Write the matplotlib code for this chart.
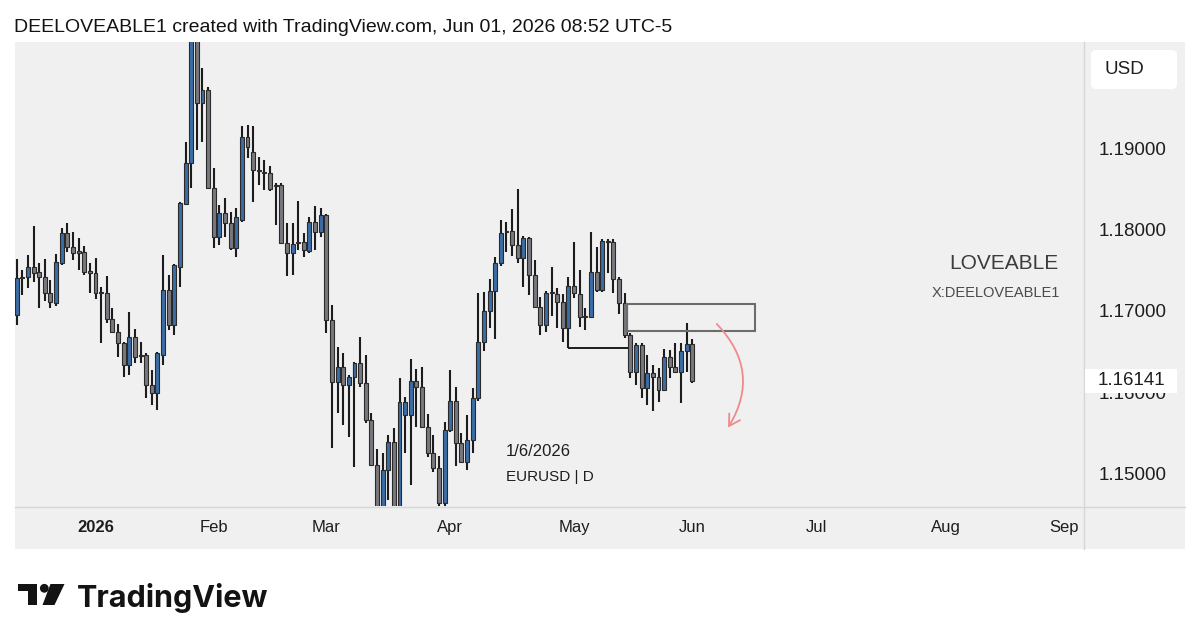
import pandas as pd
import matplotlib.pyplot as plt
from matplotlib.patches import Rectangle, FancyBboxPatch, Circle, Polygon, FancyArrowPatch
from matplotlib.lines import Line2D
from matplotlib.transforms import IdentityTransform

plt.rcParams['font.family'] = ['Liberation Sans', 'DejaVu Sans']

# EURUSD daily candles, 11 Dec 2025 .. 1 Jun 2026
opens = [
    1.16951, 1.17417, 1.17417, 1.17540, 1.17479, 1.17417, 1.17221, 1.17098, 1.17589, 1.17957,
    1.17785, 1.17736, 1.17724, 1.17491, 1.17466, 1.17233, 1.17221, 1.16902, 1.16742, 1.16607,
    1.16337, 1.16681, 1.16460, 1.16460, 1.16092, 1.15994, 1.16460, 1.17258, 1.16828, 1.17540,
    1.18313, 1.18816, 1.20420, 1.19552, 1.19712, 1.18509, 1.17908, 1.18202, 1.18080, 1.17773,
    1.18117, 1.19135, 1.18951, 1.18730, 1.18706, 1.18693, 1.18546, 1.18546, 1.17834, 1.17712,
    1.17847, 1.17847, 1.17736, 1.18092, 1.17969, 1.18178, 1.16890, 1.16129, 1.16313, 1.16092,
    1.16190, 1.16362, 1.16117, 1.15662, 1.15110, 1.14440, 1.15049, 1.15393, 1.14500, 1.15724,
    1.15724, 1.16141, 1.16067, 1.15577, 1.15258, 1.15074, 1.14644, 1.15540, 1.15896, 1.15380,
    1.15147, 1.15417, 1.15933, 1.16620, 1.17000, 1.17245, 1.17589, 1.17982, 1.17982, 1.17810,
    1.17650, 1.17896, 1.17442, 1.17049, 1.16828, 1.17233, 1.17209, 1.17110, 1.16791, 1.17307,
    1.17209, 1.16939, 1.16926, 1.17479, 1.17258, 1.17859, 1.17847, 1.17393, 1.17098, 1.16705,
    1.16252, 1.16583, 1.16055, 1.16239, 1.16190, 1.16031, 1.16436, 1.16313, 1.16252, 1.16509,
    1.16595]
highs = [
    1.17638, 1.17503, 1.17687, 1.18043, 1.17589, 1.17638, 1.17380, 1.17699, 1.18018, 1.18080,
    1.17969, 1.17896, 1.17798, 1.17589, 1.17650, 1.17294, 1.17429, 1.17037, 1.16840, 1.16620,
    1.16988, 1.16779, 1.16620, 1.16485, 1.16276, 1.16497, 1.17687, 1.17442, 1.17577, 1.18337,
    1.19074, 1.20550, 1.20680, 1.19982, 1.19748, 1.18755, 1.18301, 1.18387, 1.18215, 1.18264,
    1.19270, 1.19282, 1.19270, 1.18890, 1.18853, 1.18779, 1.18571, 1.18571, 1.18080, 1.18080,
    1.18350, 1.17957, 1.18153, 1.18288, 1.18264, 1.18190, 1.17074, 1.16558, 1.16485, 1.16215,
    1.16374, 1.16681, 1.16460, 1.15748, 1.15307, 1.15258, 1.15479, 1.15564, 1.16178, 1.15945,
    1.16411, 1.16288, 1.16313, 1.15736, 1.15479, 1.15221, 1.15638, 1.16276, 1.16067, 1.15503,
    1.15724, 1.16055, 1.17221, 1.17233, 1.17393, 1.17663, 1.18117, 1.18092, 1.18252, 1.18497,
    1.17920, 1.17908, 1.17626, 1.17172, 1.17245, 1.17540, 1.17282, 1.17209, 1.17417, 1.17847,
    1.17503, 1.17037, 1.17969, 1.17785, 1.17883, 1.17883, 1.17883, 1.17417, 1.17221, 1.16730,
    1.16607, 1.16607, 1.16460, 1.16337, 1.16301, 1.16534, 1.16521, 1.16607, 1.16607, 1.16853,
    1.16656]
lows = [
    1.16828, 1.17196, 1.17282, 1.17356, 1.17037, 1.17123, 1.17037, 1.17061, 1.17564, 1.17724,
    1.17626, 1.17503, 1.17442, 1.17221, 1.17147, 1.16607, 1.16853, 1.16730, 1.16436, 1.16190,
    1.16215, 1.16362, 1.16362, 1.15933, 1.15847, 1.15785, 1.16337, 1.16767, 1.16705, 1.17294,
    1.18301, 1.18509, 1.18975, 1.19074, 1.18500, 1.17773, 1.17810, 1.17908, 1.17748, 1.17663,
    1.18092, 1.18877, 1.18337, 1.18546, 1.18485, 1.18472, 1.18055, 1.17822, 1.17429, 1.17442,
    1.17748, 1.17663, 1.17712, 1.17748, 1.17908, 1.16730, 1.15319, 1.15748, 1.15601, 1.15454,
    1.15086, 1.16067, 1.15626, 1.15098, 1.14250, 1.14300, 1.14681, 1.14370, 1.14400, 1.15258,
    1.14865, 1.15577, 1.15564, 1.15209, 1.15025, 1.14595, 1.14595, 1.15515, 1.15098, 1.15135,
    1.15049, 1.15258, 1.15896, 1.16509, 1.16791, 1.16656, 1.17552, 1.17724, 1.17675, 1.17589,
    1.17294, 1.17196, 1.17037, 1.16705, 1.16742, 1.16939, 1.16791, 1.16620, 1.16546, 1.17160,
    1.16804, 1.16767, 1.16914, 1.17233, 1.17233, 1.17466, 1.17221, 1.16963, 1.16669, 1.16178,
    1.16092, 1.15933, 1.15847, 1.15773, 1.15883, 1.16018, 1.16178, 1.16239, 1.15871, 1.16252,
    1.16117]
closes = [
    1.17405, 1.17405, 1.17540, 1.17466, 1.17417, 1.17221, 1.17110, 1.17601, 1.17957, 1.17785,
    1.17712, 1.17712, 1.17479, 1.17466, 1.17221, 1.17221, 1.16902, 1.16742, 1.16607, 1.16337,
    1.16681, 1.16436, 1.16448, 1.16092, 1.15994, 1.16485, 1.17258, 1.16828, 1.17564, 1.18325,
    1.18816, 1.20420, 1.19552, 1.19712, 1.18509, 1.17908, 1.18202, 1.18080, 1.17773, 1.18153,
    1.19135, 1.19012, 1.18730, 1.18718, 1.18693, 1.18497, 1.18534, 1.17834, 1.17712, 1.17822,
    1.17834, 1.17748, 1.18092, 1.17969, 1.18178, 1.16890, 1.16129, 1.16313, 1.16092, 1.16190,
    1.16362, 1.16117, 1.15662, 1.15110, 1.14440, 1.15049, 1.15393, 1.14500, 1.15883, 1.15883,
    1.16141, 1.16067, 1.15577, 1.15258, 1.15074, 1.14644, 1.15540, 1.15896, 1.15380, 1.15147,
    1.15417, 1.15933, 1.16620, 1.17000, 1.17245, 1.17589, 1.17957, 1.17969, 1.17810, 1.17650,
    1.17896, 1.17442, 1.17049, 1.16828, 1.17221, 1.17221, 1.17110, 1.16791, 1.17307, 1.17221,
    1.16926, 1.16926, 1.17479, 1.17258, 1.17859, 1.17847, 1.17393, 1.17098, 1.16705, 1.16252,
    1.16583, 1.16055, 1.16239, 1.16190, 1.16031, 1.16436, 1.16313, 1.16252, 1.16509, 1.16595,
    1.16141]

month_labels = ['2026', 'Feb', 'Mar', 'Apr', 'May', 'Jun', 'Jul', 'Aug', 'Sep']
price_ticks = [1.15, 1.16, 1.17, 1.18, 1.19]

# drawings (bar index / price)
zone_left, zone_right = 108.4, 131.1
zone_bottom, zone_top = 1.16755, 1.17086
low_line_price, low_line_from, low_line_to = 1.16546, 98, 108.6
arrow_from = (124.0, 1.16865)
arrow_to = (126.1, 1.15540)

assert len(opens) == len(highs) == len(lows) == len(closes)

# trading days, weekends and the two holidays skipped
days = pd.bdate_range('2025-12-11', '2026-09-30')
days = days[~days.isin(pd.to_datetime(['2025-12-25', '2026-01-01']))]
month_idx = []
for m in range(1, 10):
    month_idx.append(int(((days.year == 2026) & (days.month == m)).argmax()))

W, H = 1200, 643
fig = plt.figure(figsize=(W / 100, H / 100), dpi=100)
px = IdentityTransform()


def fy(y):
    return H - y


fig.add_artist(Rectangle((15, fy(549)), 1170, 507, transform=px,
                         fc='#f0f0f0', ec='none', zorder=-1))
fig.add_artist(Line2D([1083.5, 1083.5], [fy(42), fy(549)], transform=px,
                      color='#d6d6d6', lw=1, zorder=1))
fig.add_artist(Line2D([15, 1185], [fy(506.5), fy(506.5)], transform=px,
                      color='#d6d6d6', lw=1, zorder=1))

ax = fig.add_axes([15 / W, (H - 506) / H, 1068 / W, 464 / H])
ax.set_facecolor('#f0f0f0')
for s in ax.spines.values():
    s.set_visible(False)

x = list(range(len(closes)))
blue, grey = '#3b6da6', '#78787e'
cols = [blue if c >= o else grey for o, c in zip(opens, closes)]
ax.vlines(x, lows, highs, color='#1c1c1c', lw=1.5, zorder=2)
ax.bar(x, [abs(c - o) for o, c in zip(opens, closes)],
       bottom=[min(o, c) for o, c in zip(opens, closes)],
       width=0.7, color=cols, edgecolor='#2a2a2a', linewidth=0.8, zorder=3)

ax.set_xlim(-0.3, 189.4)
ax.set_ylim(1.14607, 1.20301)

ax.set_xticks(month_idx)
ax.set_xticklabels(month_labels)
ax.get_xticklabels()[0].set_fontweight('bold')
ax.tick_params(axis='x', length=0, pad=10, labelsize=12, labelcolor='#1e1e1e')

ax.yaxis.tick_right()
ax.set_yticks(price_ticks)
ax.set_yticklabels([f'{v:.5f}' for v in price_ticks])
ax.tick_params(axis='y', length=0, pad=11, labelsize=13.5, labelcolor='#1e1e1e')

ax.add_patch(Rectangle((zone_left, zone_bottom), zone_right - zone_left,
                       zone_top - zone_bottom, fill=False, ec='#6c6c6c', lw=1.5, zorder=4))
ax.hlines(low_line_price, low_line_from, low_line_to, color='#1c1c1c', lw=1.4, zorder=4)
ax.add_patch(FancyArrowPatch(arrow_from, arrow_to, connectionstyle='arc3,rad=-0.4',
                             arrowstyle='->,head_length=0.6,head_width=0.35',
                             mutation_scale=13, color='#f08a8a', lw=1.3, zorder=5))

ax.text(0.9766, 0.5237, 'LOVEABLE', transform=ax.transAxes, ha='right', va='center',
        fontsize=15, color='#3c3c3c')
ax.text(0.9785, 0.459, 'X:DEELOVEABLE1', transform=ax.transAxes, ha='right', va='center',
        fontsize=10.5, color='#4a4a4a')
ax.text(0.4597, 0.1164, '1/6/2026', transform=ax.transAxes, ha='left', va='center',
        fontsize=12, color='#1e1e1e')
ax.text(0.4597, 0.0625, 'EURUSD | D', transform=ax.transAxes, ha='left', va='center',
        fontsize=11, color='#1e1e1e')

# last price label on the price scale (covers most of the 1.16000 label, as in TradingView)
yd = ax.transData.transform((0, closes[-1]))[1]
fig.add_artist(Rectangle((1085, yd - 12), 92, 24, transform=px,
                         fc='white', ec='none', zorder=5))
fig.text(1098 / W, yd / H, f'{closes[-1]:.5f}', va='center', fontsize=13.5,
         color='#1e1e1e', zorder=6)

# currency badge
fig.add_artist(FancyBboxPatch((1091, fy(89)), 86, 39, boxstyle='round,pad=0,rounding_size=5',
                              transform=px, fc='white', ec='none', zorder=5))
fig.text(1105 / W, fy(69) / H, 'USD', va='center', fontsize=13.5, color='#1e1e1e', zorder=6)

fig.text(14 / W, fy(27) / H, 'DEELOVEABLE1 created with TradingView.com, Jun 01, 2026 08:52 UTC-5',
         va='center', fontsize=14, color='#131313')

# TradingView logo
logo = '#131313'
fig.add_artist(Rectangle((18.3, fy(591)), 18.4, 7, transform=px, fc=logo, ec='none'))
fig.add_artist(Rectangle((28.3, fy(605)), 8.4, 21, transform=px, fc=logo, ec='none'))
fig.add_artist(Circle((44.3, fy(588.3)), 4.4, transform=px, fc=logo, ec='none'))
fig.add_artist(Polygon([(50.5, fy(584)), (64.5, fy(584)), (54.5, fy(605)), (42.5, fy(605))],
                       closed=True, transform=px, fc=logo, ec='none'))
fig.text(77 / W, fy(607) / H, 'TradingView', va='baseline', fontsize=22,
         fontweight='bold', family=['Inter', 'DejaVu Sans'], color=logo)

fig.savefig('out.png', dpi=100, facecolor='white')
